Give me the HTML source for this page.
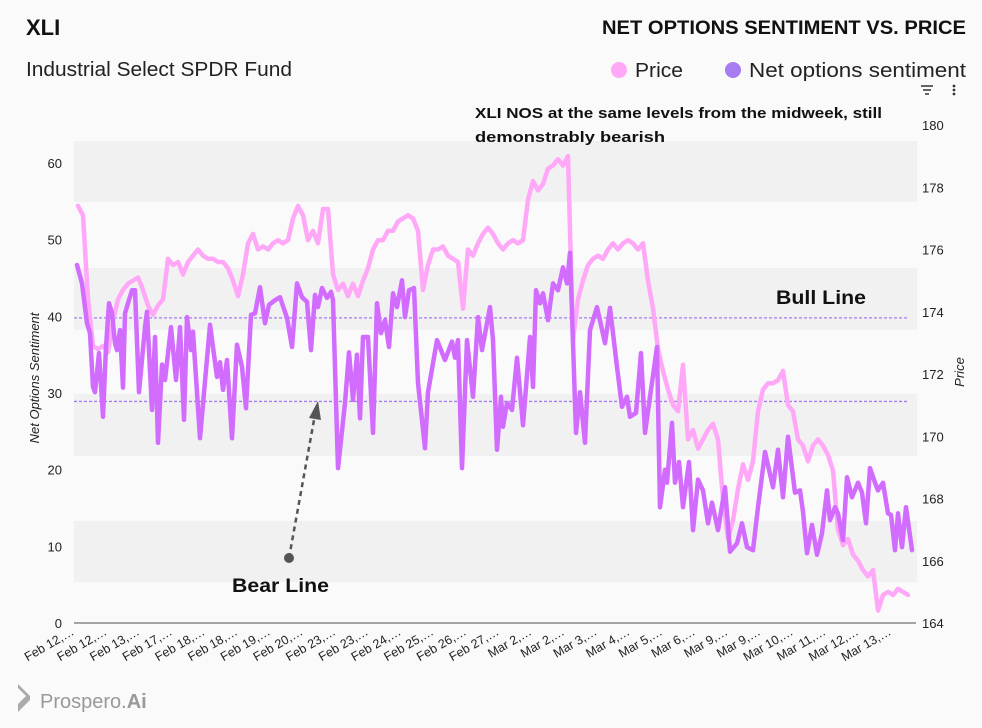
<!DOCTYPE html>
<html><head><meta charset="utf-8">
<style>
body{margin:0;background:#fafafa;font-family:"Liberation Sans",sans-serif;}
svg{display:block}
</style></head>
<body>
<svg id="chart" width="982" height="728" viewBox="0 0 982 728" font-family="'Liberation Sans', 'DejaVu Sans', sans-serif">
<rect width="982" height="728" fill="#fafafa"/>
<g id="bands"></g>
<text x="26" y="35" font-size="22" font-weight="bold" fill="#111">XLI</text>
<text x="26" y="76" font-size="20" fill="#222" textLength="266" lengthAdjust="spacingAndGlyphs">Industrial Select SPDR Fund</text>
<text x="966" y="34" font-size="19" font-weight="bold" fill="#111" text-anchor="end" textLength="364" lengthAdjust="spacingAndGlyphs">NET OPTIONS SENTIMENT VS. PRICE</text>
<g><circle cx="619" cy="70" r="8" fill="#ffa8f7"/><text x="635" y="77" font-size="20" fill="#222" textLength="48" lengthAdjust="spacingAndGlyphs">Price</text></g>
<g><circle cx="733" cy="70" r="8" fill="#a77cf0"/><text x="749" y="77" font-size="20" fill="#222" textLength="217" lengthAdjust="spacingAndGlyphs">Net options sentiment</text></g>
<g stroke="#333" stroke-width="1.5"><line x1="921" y1="86" x2="933" y2="86"/><line x1="923" y1="90" x2="931" y2="90"/><line x1="925" y1="94" x2="929" y2="94"/></g>
<g fill="#333"><circle cx="954" cy="86" r="1.4"/><circle cx="954" cy="90" r="1.4"/><circle cx="954" cy="94" r="1.4"/></g>
<g id="leftTicks"></g>
<g id="rightTicks"></g>
<text transform="translate(39,378) rotate(-90)" font-size="13" font-style="italic" fill="#222" text-anchor="middle">Net Options Sentiment</text>
<text transform="translate(964,372) rotate(-90)" font-size="13" font-style="italic" fill="#222" text-anchor="middle">Price</text>
<g id="series"></g>
<line x1="74" y1="623" x2="916" y2="623" stroke="#888" stroke-width="1.5"/>
<g id="xTicks"></g>
<text x="475" y="118" font-size="15" font-weight="bold" fill="#111"><tspan x="475" textLength="407" lengthAdjust="spacingAndGlyphs">XLI NOS at the same levels from the midweek, still</tspan><tspan x="475" dy="24" textLength="190" lengthAdjust="spacingAndGlyphs">demonstrably bearish</tspan></text>
<text x="776" y="304" font-size="19" font-weight="bold" fill="#111" textLength="90" lengthAdjust="spacingAndGlyphs">Bull Line</text>
<text x="232" y="592" font-size="19" font-weight="bold" fill="#111" textLength="97" lengthAdjust="spacingAndGlyphs">Bear Line</text>
<g>
<circle cx="289" cy="558" r="5" fill="#555"/>
<line x1="289" y1="558" x2="314" y2="420" stroke="#555" stroke-width="2.5" stroke-dasharray="5,4"/>
<polygon points="318,401 309,418 321,420" fill="#555"/>
</g>
<g>
<path d="M18,688 l8,8 l-8,8 v8 l12,-12 v-4 l-12,-12z" fill="#aaa"/>
<text x="40" y="708" font-size="20" fill="#999">Prospero.<tspan font-weight="bold">Ai</tspan></text>
</g>
</svg>
<script>
// ---- data ----
const leftTicks=[0,10,20,30,40,50,60];
const rightTicks=[164,166,168,170,172,174,176,178,180];
const xLabels=["Feb 12,…","Feb 12,…","Feb 13,…","Feb 17,…","Feb 18,…","Feb 18,…","Feb 19,…","Feb 20,…","Feb 23,…","Feb 23,…","Feb 24,…","Feb 25,…","Feb 26,…","Feb 27,…","Mar 2,…","Mar 2,…","Mar 3,…","Mar 4,…","Mar 5,…","Mar 6,…","Mar 9,…","Mar 9,…","Mar 10,…","Mar 11,…","Mar 12,…","Mar 13,…"];
const bullLine=39.8;
const bearLine=28.9;
const priceStep=5;
const priceValues=[177.4,177.1,174.4,172.9,172.8,172.9,172.7,173.7,174.4,174.7,174.9,175.0,175.1,174.7,174.2,173.9,174.2,174.4,175.7,175.5,175.6,175.2,175.6,175.8,176.0,175.8,175.7,175.7,175.6,175.6,175.4,175.0,174.5,175.2,176.2,176.5,176.0,176.1,176.0,176.2,176.3,176.2,176.3,177.0,177.4,177.1,176.3,176.6,176.2,177.3,177.3,175.2,174.7,174.9,174.5,174.9,174.5,175.0,175.4,176.0,176.3,176.3,176.6,176.6,176.9,177.0,177.1,177.0,176.6,174.7,175.5,176.0,176.0,176.1,175.8,175.7,175.6,174.1,176.0,175.8,176.2,176.5,176.7,176.5,176.2,176.0,176.2,176.3,176.2,176.3,177.6,178.2,177.9,178.1,178.6,178.7,178.9,178.7,179.0,173.1,174.4,175.0,175.5,175.7,175.8,175.7,176.0,176.2,176.0,176.2,176.3,176.2,176.0,176.2,175.0,174.1,172.8,172.1,171.5,171.0,170.8,172.3,169.9,170.2,169.6,169.9,170.2,170.4,169.9,168.0,166.7,167.3,168.3,169.1,168.6,169.2,170.8,171.5,171.7,171.7,171.8,172.1,171.0,170.8,169.9,169.7,169.2,169.7,169.9,169.7,169.4,168.9,167.0,166.5,166.7,166.2,166.0,165.7,165.5,165.7,164.4,164.9,165.0,164.9,165.1,165.0,164.9];
const nosT=[0,5,10,13,16,18,20,22,26,29,32,35,38,40,43,46,48,51,55,58,62,68,70,75,78,81,85,88,94,99,103,107,110,114,116,123,133,140,143,146,150,155,160,165,169,174,178,183,188,192,198,203,210,215,220,225,230,234,238,241,245,250,254,256,261,268,272,276,280,283,286,291,296,300,304,308,312,316,320,325,328,332,337,341,348,351,360,368,375,378,381,385,390,396,401,405,413,416,420,424,426,430,435,440,446,453,456,459,463,466,471,476,481,486,490,493,499,503,508,513,520,528,533,540,545,550,553,559,564,568,573,580,583,588,590,595,598,602,606,612,616,621,626,631,635,641,648,653,660,665,670,676,681,688,696,701,706,711,718,723,726,730,735,740,745,750,753,758,761,766,770,775,781,785,789,793,798,801,806,811,814,818,821,825,829,835];
const nosValues=[46.7,44.3,39.1,37.8,30.8,30.1,32.6,35.2,26.9,36.0,41.7,40.4,36.5,35.6,38.2,30.7,40.4,41.7,43.4,43.4,30.1,38.6,40.6,27.8,37.3,23.5,33.7,31.7,38.6,31.7,38.6,26.5,39.9,35.6,38.0,24.1,38.9,32.1,34.0,30.4,34.3,24.1,36.3,33.4,28.0,40.2,40.4,43.8,39.1,41.5,42.1,42.5,39.8,36.0,44.3,42.5,41.9,35.6,42.8,41.2,43.7,42.4,43.2,42.1,20.2,28.7,35.3,29.1,35.0,26.7,37.3,37.3,24.8,41.7,37.8,39.5,36.0,43.0,41.2,44.7,39.9,43.4,43.7,31.3,22.8,30.1,36.9,34.3,36.7,34.6,36.9,20.2,36.9,29.5,39.9,35.6,41.2,36.9,22.6,29.5,25.6,28.7,27.8,34.6,25.8,37.3,30.8,43.4,41.7,43.0,39.5,44.3,43.4,46.4,44.3,48.3,24.8,30.1,23.5,38.2,41.2,36.5,41.1,33.4,28.2,29.5,26.9,27.4,35.2,24.8,29.5,36.0,15.1,20.0,18.3,26.1,18.3,21.0,15.1,21.0,12.1,18.7,17.3,13.0,15.7,12.1,17.7,9.3,10.4,13.0,9.9,9.5,15.1,22.3,17.7,22.6,16.4,24.3,17.0,17.3,14.5,9.1,12.8,8.9,11.7,17.3,13.4,15.1,14.3,10.8,19.0,16.4,18.3,17.0,13.0,20.2,18.3,17.3,18.3,14.3,14.1,9.5,14.3,9.9,15.1,9.5,14.3];

// ---- scales ----
const X0=77,X1=917,T0=0,T1=840;
const xScale=t=>X0+(t-T0)/(T1-T0)*(X1-X0);
const yL=v=>623-v*(623-163)/60;
const yR=v=>623-(v-164)*(623-125)/16;
const NS='http://www.w3.org/2000/svg';
function mk(tag,attrs,parent){const e=document.createElementNS(NS,tag);for(const k in attrs)e.setAttribute(k,attrs[k]);parent.appendChild(e);return e;}

const bands=document.getElementById('bands');
[[141,202],[268,330],[394,456],[521,582]].forEach((b,i)=>{
  const r=mk('rect',{x:74,y:b[0],width:843,height:b[1]-b[0],fill:'#f1f1f1'},bands);
  
  
});

const lt=document.getElementById('leftTicks');
leftTicks.forEach(v=>{
  const t=mk('text',{x:62,y:yL(v)+5,'font-size':13,fill:'#222','text-anchor':'end'},lt);
  t.textContent=v;
  
  
});
const rt=document.getElementById('rightTicks');
rightTicks.forEach(v=>{
  const t=mk('text',{x:922,y:yR(v)+5,'font-size':13,fill:'#222'},rt);
  t.textContent=v;
  
  
});
const xt=document.getElementById('xTicks');
xLabels.forEach((s,i)=>{
  const xe=75+i*(892-75)/(xLabels.length-1);
  const t=mk('text',{transform:`translate(${xe},634) rotate(-30)`,'font-size':12.5,fill:'#222','text-anchor':'end'},xt);
  t.textContent=s;
  
  
});

const sg=document.getElementById('series');
const bull=mk('line',{x1:74,x2:907,y1:yL(bullLine),y2:yL(bullLine),stroke:'#a77cf0','stroke-width':1.3,'stroke-dasharray':'3,2'},sg);


const bear=mk('line',{x1:74,x2:907,y1:yL(bearLine),y2:yL(bearLine),stroke:'#a77cf0','stroke-width':1.3,'stroke-dasharray':'3,2'},sg);



const pp=priceValues.map((v,i)=>xScale(1+i*priceStep).toFixed(1)+','+yR(v).toFixed(1)).join(' ');
const pl=mk('polyline',{points:pp,fill:'none',stroke:'#ffa8f7','stroke-width':4.5,'stroke-linejoin':'round','stroke-linecap':'round'},sg);


const np=nosValues.map((v,i)=>xScale(nosT[i]).toFixed(1)+','+yL(v).toFixed(1)).join(' ');
const nl=mk('polyline',{points:np,fill:'none',stroke:'#d16cff','stroke-width':4.5,'stroke-linejoin':'round','stroke-linecap':'round'},sg);


</script>
</body></html>
